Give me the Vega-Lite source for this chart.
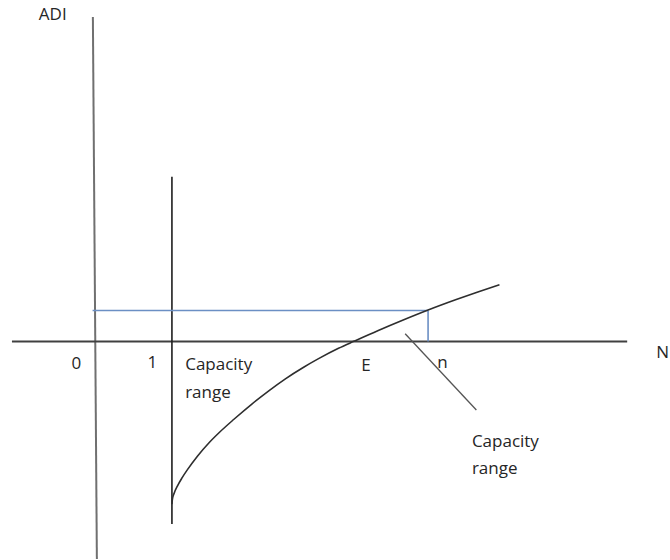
{
  "$schema": "https://vega.github.io/schema/vega-lite/v6.json",
  "width": 670,
  "height": 560,
  "padding": 0,
  "autosize": {"type": "fit", "contains": "padding"},
  "background": "white",
  "config": {"view": {"stroke": null}},
  "datasets": {
    "axisY": [{"x": -1.7, "y": 325, "x2": 2.3, "y2": -218}],
    "axisN": [{"x": -83, "y": 0, "x2": 535, "y2": 0}],
    "lineOne": [{"x": 77.7, "y": 165, "x2": 77.7, "y2": -183}],
    "leader": [{"x": 312, "y": 7.7, "x2": 383.5, "y2": -68.7}],
    "blue": [
      {"x": -2, "y": 31, "x2": 335, "y2": 31},
      {"x": 335, "y": 31, "x2": 335, "y2": 0}
    ],
    "curve": [
      {"n": 77.7, "adi": -163},
      {"n": 78.2, "adi": -158},
      {"n": 80, "adi": -152},
      {"n": 83.3, "adi": -144.7},
      {"n": 88, "adi": -136.5},
      {"n": 93.3, "adi": -128.5},
      {"n": 103.3, "adi": -115},
      {"n": 115, "adi": -101.5},
      {"n": 125, "adi": -91.5},
      {"n": 140, "adi": -78},
      {"n": 158.3, "adi": -62.5},
      {"n": 175, "adi": -49.5},
      {"n": 191.7, "adi": -37.5},
      {"n": 210, "adi": -25.9},
      {"n": 225, "adi": -17.3},
      {"n": 245, "adi": -6.9},
      {"n": 261, "adi": 0.3},
      {"n": 285, "adi": 10.9},
      {"n": 310, "adi": 21.4},
      {"n": 335, "adi": 31.4},
      {"n": 363.3, "adi": 41.9},
      {"n": 385, "adi": 49.5},
      {"n": 406.7, "adi": 56.7}
    ],
    "labelsLeft": [
      {"text": "ADI", "x": -56, "y": 321.5},
      {"text": "Capacity", "x": 91, "y": -28.5},
      {"text": "range", "x": 91, "y": -56.5},
      {"text": "N", "x": 564.3, "y": -17},
      {"text": "Capacity", "x": 379, "y": -106},
      {"text": "range", "x": 379, "y": -133}
    ],
    "labelsCenter": [
      {"text": "0", "x": -18.3, "y": -28},
      {"text": "1", "x": 58, "y": -26.5},
      {"text": "E", "x": 272.5, "y": -29.5},
      {"text": "n", "x": 349.5, "y": -27}
    ]
  },
  "encoding": {
    "x": {"field": "x", "type": "quantitative", "scale": {"domain": [-95, 575], "nice": false, "zero": false}, "axis": null},
    "y": {"field": "y", "type": "quantitative", "scale": {"domain": [-218, 342], "nice": false, "zero": false}, "axis": null}
  },
  "layer": [
    {
      "data": {"name": "axisY"},
      "mark": {"type": "rule", "color": "#707070", "strokeWidth": 2},
      "encoding": {"x2": {"field": "x2"}, "y2": {"field": "y2"}}
    },
    {
      "data": {"name": "axisN"},
      "mark": {"type": "rule", "color": "#404040", "strokeWidth": 2},
      "encoding": {"x2": {"field": "x2"}, "y2": {"field": "y2"}}
    },
    {
      "data": {"name": "lineOne"},
      "mark": {"type": "rule", "color": "#1e1e1e", "strokeWidth": 1.6},
      "encoding": {"x2": {"field": "x2"}, "y2": {"field": "y2"}}
    },
    {
      "data": {"name": "leader"},
      "mark": {"type": "rule", "color": "#555555", "strokeWidth": 1.3},
      "encoding": {"x2": {"field": "x2"}, "y2": {"field": "y2"}}
    },
    {
      "data": {"name": "blue"},
      "mark": {"type": "rule", "color": "#6b8fc4", "strokeWidth": 1.6},
      "encoding": {"x2": {"field": "x2"}, "y2": {"field": "y2"}}
    },
    {
      "data": {"name": "curve"},
      "mark": {"type": "line", "color": "#2e2e2e", "strokeWidth": 1.6, "interpolate": "monotone"},
      "encoding": {
        "x": {"field": "n", "type": "quantitative"},
        "y": {"field": "adi", "type": "quantitative"},
        "order": {"field": "n", "type": "quantitative"}
      }
    },
    {
      "data": {"name": "labelsLeft"},
      "mark": {"type": "text", "align": "left", "baseline": "alphabetic", "font": "Open Sans", "fontSize": 17, "color": "#262626"},
      "encoding": {"text": {"field": "text", "type": "nominal"}}
    },
    {
      "data": {"name": "labelsCenter"},
      "mark": {"type": "text", "align": "center", "baseline": "alphabetic", "font": "Open Sans", "fontSize": 17, "color": "#262626"},
      "encoding": {"text": {"field": "text", "type": "nominal"}}
    }
  ]
}
